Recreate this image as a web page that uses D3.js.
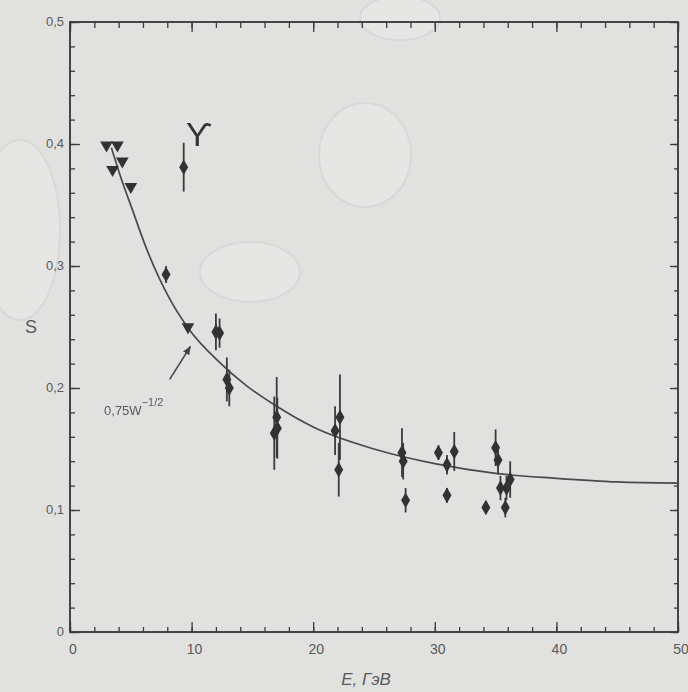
<!DOCTYPE html>
<html>
<head>
<meta charset="utf-8">
<script src="https://cdn.jsdelivr.net/npm/d3@7"></script>
<style>
  html, body { margin: 0; padding: 0; background: #e1e1e0; }
  svg { display: block; }
  text { font-family: "Liberation Sans", "DejaVu Sans", sans-serif; fill: #5a5a5a; }
</style>
</head>
<body>
<svg id="chart" width="688" height="692"></svg>
<script>
// data
var triX = [3.0, 3.9, 4.3, 3.5, 5.0, 9.7];
var triY = [0.399, 0.399, 0.386, 0.379, 0.365, 0.25];

var ptX   = [9.35, 7.9, 12.0, 12.3, 12.9, 13.1, 17.0, 17.05, 16.8, 22.2, 21.8, 22.1, 27.3, 27.4, 27.6, 30.3, 31.0, 31.6, 31.0, 34.2, 35.0, 35.2, 35.4, 35.9, 35.8, 36.2];
var ptY   = [0.381, 0.293, 0.246, 0.245, 0.207, 0.200, 0.176, 0.167, 0.163, 0.176, 0.165, 0.133, 0.147, 0.140, 0.108, 0.147, 0.137, 0.148, 0.112, 0.102, 0.151, 0.141, 0.118, 0.118, 0.102, 0.125];
var ptErr = [0.020, 0.007, 0.015, 0.012, 0.018, 0.015, 0.033, 0.025, 0.030, 0.035, 0.020, 0.022, 0.020, 0.015, 0.010, 0.006, 0.008, 0.016, 0.006, 0.005, 0.015, 0.012, 0.010, 0.010, 0.008, 0.015];

var curveX = [3.4, 4.2, 5.1, 6.3, 8.2, 9.8, 12.3, 14.5, 17, 20, 25, 30, 35, 40, 45, 50];
var curveY = [0.397, 0.372, 0.347, 0.314, 0.273, 0.248, 0.221, 0.202, 0.185, 0.168, 0.150, 0.138, 0.130, 0.126, 0.123, 0.122];

var xTicks = [0, 10, 20, 30, 40, 50];
var yTicks = [0, 0.1, 0.2, 0.3, 0.4, 0.5];

var svg = d3.select("#chart");
var padL = 70, padR = 678, padT = 22, padB = 632;

var x = d3.scaleLinear().domain([0, 50]).range([padL, padR]);
var y = d3.scaleLinear().domain([0, 0.5]).range([padB, padT]);

// faint paper stains
var stains = [[365, 155, 46, 52], [250, 272, 50, 30], [400, 18, 40, 22], [20, 230, 40, 90]];
svg.selectAll("ellipse.stain").data(stains).enter().append("ellipse")
  .attr("class", "stain")
  .attr("cx", function(d){ return d[0]; })
  .attr("cy", function(d){ return d[1]; })
  .attr("rx", function(d){ return d[2]; })
  .attr("ry", function(d){ return d[3]; })
  .attr("fill", "#e6e6e5")
  .attr("stroke", "#d8d8d7")
  .attr("stroke-width", 2);

var defs = svg.append("defs");
defs.append("filter").attr("id", "soft")
  .append("feGaussianBlur").attr("stdDeviation", 0.6);

var fmt = d3.formatLocale({decimal: ",", thousands: " ", grouping: [3], currency: ["", ""]}).format(".1f");
var yFmt = function(d){ return d === 0 ? "0" : fmt(d); };

var xMinor = d3.range(0, 51, 2);
var yMinor = d3.range(0, 0.501, 0.02);

function ticks(g, axis){
  g.call(axis);
  g.select(".domain").remove();
  g.selectAll("line").attr("stroke", "#3a3a3a").attr("stroke-width", 1.3);
}

var frame = svg.append("g").attr("filter", "url(#soft)");

frame.append("rect")
  .attr("x", padL).attr("y", padT)
  .attr("width", padR - padL).attr("height", padB - padT)
  .attr("fill", "none").attr("stroke", "#333").attr("stroke-width", 1.8);

// minor ticks
frame.append("g").attr("transform", "translate(0," + padB + ")")
  .call(function(g){ ticks(g, d3.axisBottom(x).tickValues(xMinor).tickSize(-5).tickFormat("")); });
frame.append("g").attr("transform", "translate(0," + padT + ")")
  .call(function(g){ ticks(g, d3.axisTop(x).tickValues(xMinor).tickSize(-6).tickFormat("")); });
frame.append("g").attr("transform", "translate(" + padL + ",0)")
  .call(function(g){ ticks(g, d3.axisLeft(y).tickValues(yMinor).tickSize(-5).tickFormat("")); });
frame.append("g").attr("transform", "translate(" + padR + ",0)")
  .call(function(g){ ticks(g, d3.axisRight(y).tickValues(yMinor).tickSize(-4).tickFormat("")); });

// major ticks
frame.append("g").attr("transform", "translate(0," + padB + ")")
  .call(function(g){ ticks(g, d3.axisBottom(x).tickValues(xTicks).tickSize(-10).tickFormat("")); });
frame.append("g").attr("transform", "translate(0," + padT + ")")
  .call(function(g){ ticks(g, d3.axisTop(x).tickValues(xTicks).tickSize(-10).tickFormat("")); });
frame.append("g").attr("transform", "translate(" + padL + ",0)")
  .call(function(g){ ticks(g, d3.axisLeft(y).tickValues(yTicks).tickSize(-10).tickFormat("")); });
frame.append("g").attr("transform", "translate(" + padR + ",0)")
  .call(function(g){ ticks(g, d3.axisRight(y).tickValues(yTicks).tickSize(-8).tickFormat("")); });

// tick labels
svg.selectAll("text.xt").data(xTicks).enter().append("text")
  .attr("class", "xt")
  .attr("x", function(d){ return x(d) + 3; })
  .attr("y", padB + 22)
  .attr("text-anchor", "middle")
  .attr("font-size", 14)
  .text(function(d){ return d; });

svg.selectAll("text.yt").data(yTicks).enter().append("text")
  .attr("class", "yt")
  .attr("x", padL - 6)
  .attr("y", function(d){ return y(d) + 4; })
  .attr("text-anchor", "end")
  .attr("font-size", 13)
  .text(yFmt);

svg.append("text").attr("x", 31).attr("y", 333)
  .attr("text-anchor", "middle").attr("font-size", 18).text("S");

svg.append("text").attr("x", 366).attr("y", 685)
  .attr("text-anchor", "middle").attr("font-size", 17)
  .attr("font-style", "italic").attr("font-family", "DejaVu Serif, serif")
  .text("E, ГэВ");

// fitted curve
var pts = curveX.map(function(d, i){ return [d, curveY[i]]; });
svg.append("path")
  .datum(pts)
  .attr("fill", "none")
  .attr("stroke", "#4a4a4a")
  .attr("stroke-width", 1.7)
  .attr("filter", "url(#soft)")
  .attr("d", d3.line().x(function(d){ return x(d[0]); }).y(function(d){ return y(d[1]); }).curve(d3.curveMonotoneX));

var marks = svg.append("g").attr("filter", "url(#soft)");

// error bars
marks.selectAll("line.err").data(ptX).enter().append("line")
  .attr("class", "err")
  .attr("x1", function(d){ return x(d); })
  .attr("x2", function(d){ return x(d); })
  .attr("y1", function(d, i){ return y(ptY[i] + ptErr[i]); })
  .attr("y2", function(d, i){ return y(ptY[i] - ptErr[i]); })
  .attr("stroke", "#3a3a3a")
  .attr("stroke-width", 1.8);

var diamond = d3.symbol().type(d3.symbolDiamond).size(70);
marks.selectAll("path.pt").data(ptX).enter().append("path")
  .attr("class", "pt")
  .attr("transform", function(d, i){ return "translate(" + x(d) + "," + y(ptY[i]) + ")"; })
  .attr("d", diamond)
  .attr("fill", "#333");

var tri = d3.symbol().type(d3.symbolTriangle).size(70);
marks.selectAll("path.tri").data(triX).enter().append("path")
  .attr("class", "tri")
  .attr("transform", function(d, i){ return "translate(" + x(d) + "," + y(triY[i]) + ") rotate(180)"; })
  .attr("d", tri)
  .attr("fill", "#333");

// Upsilon label
svg.append("text")
  .attr("x", x(10.6)).attr("y", y(0.398))
  .attr("text-anchor", "middle")
  .attr("font-size", 34)
  .attr("font-family", "DejaVu Serif, serif")
  .style("fill", "#333")
  .text("ϒ");

// annotation for the curve
defs.append("marker").attr("id", "arrow")
  .attr("viewBox", "0 0 10 10").attr("refX", 9).attr("refY", 5)
  .attr("markerWidth", 6).attr("markerHeight", 6).attr("orient", "auto")
  .append("path").attr("d", "M0,1 L10,5 L0,9 Z").attr("fill", "#444");

svg.append("line")
  .attr("x1", x(8.2)).attr("y1", y(0.207))
  .attr("x2", x(9.9)).attr("y2", y(0.234))
  .attr("stroke", "#444").attr("stroke-width", 1.5)
  .attr("marker-end", "url(#arrow)");

var ann = svg.append("text")
  .attr("x", x(2.8)).attr("y", y(0.178))
  .attr("font-size", 13);
ann.append("tspan").text("0,75W");
ann.append("tspan").attr("dy", -9).attr("font-size", 11).text("−1/2");
</script>
</body>
</html>
